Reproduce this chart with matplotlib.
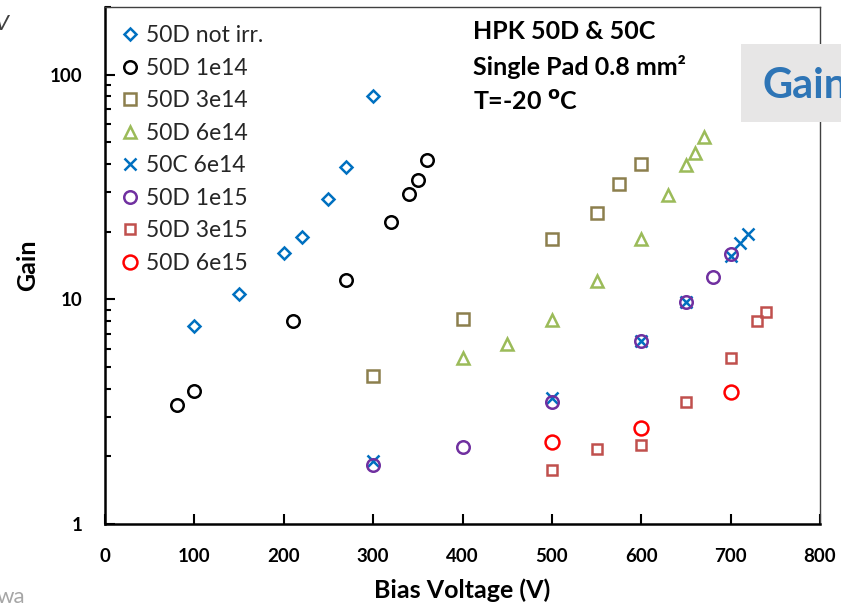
import matplotlib.pyplot as plt
import matplotlib.patches as patches
from matplotlib.ticker import LogLocator, NullFormatter, FixedLocator

plt.rcParams['font.family'] = ['Lato', 'DejaVu Sans']

# data
v_not_irr = [100, 150, 200, 220, 250, 270, 300]
g_not_irr = [7.6, 10.6, 16.0, 19.0, 28.0, 39.0, 80.0]

v_1e14 = [80, 100, 210, 270, 320, 340, 350, 360]
g_1e14 = [3.4, 3.9, 8.0, 12.2, 22.0, 29.5, 34.0, 41.5]

v_3e14 = [300, 400, 500, 550, 575, 600]
g_3e14 = [4.55, 8.2, 18.6, 24.2, 32.5, 40.0]

v_6e14 = [400, 450, 500, 550, 600, 630, 650, 660, 670]
g_6e14 = [5.5, 6.3, 8.1, 12.1, 18.6, 29.0, 39.5, 45.0, 53.0]

v_c6e14 = [300, 500, 600, 650, 700, 710, 720]
g_c6e14 = [1.9, 3.65, 6.55, 9.7, 15.6, 17.9, 19.6]

v_1e15 = [300, 400, 500, 600, 650, 680, 700]
g_1e15 = [1.83, 2.2, 3.5, 6.5, 9.7, 12.6, 15.9]

v_3e15 = [500, 550, 600, 650, 700, 730, 740]
g_3e15 = [1.74, 2.16, 2.25, 3.5, 5.5, 8.0, 8.8]

v_6e15 = [500, 600, 700]
g_6e15 = [2.32, 2.67, 3.87]

fig = plt.figure(figsize=(8.41, 6.07), dpi=100)
ax = fig.add_axes([0.1249, 0.1367, 0.975 - 0.1249, 0.9885 - 0.1367])

mew = 1.8
ax.plot(v_not_irr, g_not_irr, 'D', ms=6, mfc='none', mec='#0070C0', mew=mew, label='50D not irr.')
ax.plot(v_1e14, g_1e14, 'o', ms=9, mfc='none', mec='black', mew=mew, label='50D 1e14')
ax.plot(v_3e14, g_3e14, 's', ms=8.5, mfc='none', mec='#8C7F4D', mew=mew, label='50D 3e14')
ax.plot(v_6e14, g_6e14, '^', ms=8.5, mfc='none', mec='#9BBB59', mew=mew, label='50D 6e14')
ax.plot(v_c6e14, g_c6e14, 'x', ms=8, mec='#0070C0', mew=mew, label='50C 6e14')
ax.plot(v_1e15, g_1e15, 'o', ms=9, mfc='none', mec='#7030A0', mew=mew, label='50D 1e15')
ax.plot(v_3e15, g_3e15, 's', ms=7.5, mfc='none', mec='#C0504D', mew=mew, label='50D 3e15')
ax.plot(v_6e15, g_6e15, 'o', ms=10, mfc='none', mec='#FF0000', mew=mew, label='50D 6e15')

ax.set_yscale('log')
ax.set_xlim(0, 800)
ax.set_ylim(1, 200)
ax.xaxis.set_major_locator(FixedLocator(range(0, 801, 100)))
ax.yaxis.set_major_locator(FixedLocator([1, 10, 100]))
ax.yaxis.set_major_formatter(plt.FuncFormatter(lambda y, p: f'{int(y)}'))
ax.yaxis.set_minor_locator(LogLocator(base=10, subs=range(2, 10)))
ax.yaxis.set_minor_formatter(NullFormatter())
ax.tick_params(axis='both', which='major', direction='in', length=7, width=1.5,
               labelsize=13.5)
ax.tick_params(axis='x', which='major', pad=17)
ax.tick_params(axis='y', which='major', pad=16)
ax.tick_params(axis='y', which='minor', direction='in', length=4, width=1.5)
for lbl in ax.get_xticklabels() + ax.get_yticklabels():
    lbl.set_fontweight('bold')
for s in ['left', 'bottom']:
    ax.spines[s].set_linewidth(1.8)
for s in ['top', 'right']:
    ax.spines[s].set_linewidth(1.0)
    ax.spines[s].set_color('#404040')

ax.set_xlabel('Bias Voltage (V)', fontsize=18, fontweight='bold', labelpad=10)
ax.set_ylabel('Gain', fontsize=18, fontweight='bold', labelpad=8)

leg = ax.legend(loc='upper left', frameon=False, fontsize=16.5, handletextpad=0.1,
                labelspacing=0.5, borderaxespad=0.4, handlelength=1.2,
                bbox_to_anchor=(-0.01, 1.0))
for t in leg.get_texts():
    t.set_color('#262626')

ax.text(0.515, 0.974, 'HPK 50D & 50C', transform=ax.transAxes, fontsize=18,
        fontweight='bold', va='top')
ax.text(0.515, 0.907, 'Single Pad 0.8 mm²', transform=ax.transAxes, fontsize=18,
        fontweight='bold', va='top')
ax.text(0.515, 0.840, r'T=-20 $^{\mathbf{o}}$C', transform=ax.transAxes, fontsize=18,
        fontweight='bold', va='top')

# slide remnants around the chart
fig.patches.append(patches.Rectangle((741 / 841, 1 - 122 / 607), 0.2, 78 / 607,
                                     transform=fig.transFigure, facecolor='#E7E6E6',
                                     edgecolor='none', zorder=5))
fig.text(763 / 841, 1 - 98 / 607, 'Gain', fontsize=30, fontweight='bold',
         color='#2E75B6', zorder=6)
fig.text(-0.004, 1 - 603 / 607, 'wa', fontsize=16, color='#A6A6A6')
fig.text(-0.006, 1 - 30 / 607, 'V', fontsize=16, color='#404040', style='italic')

fig.savefig('out.png', dpi=100)
